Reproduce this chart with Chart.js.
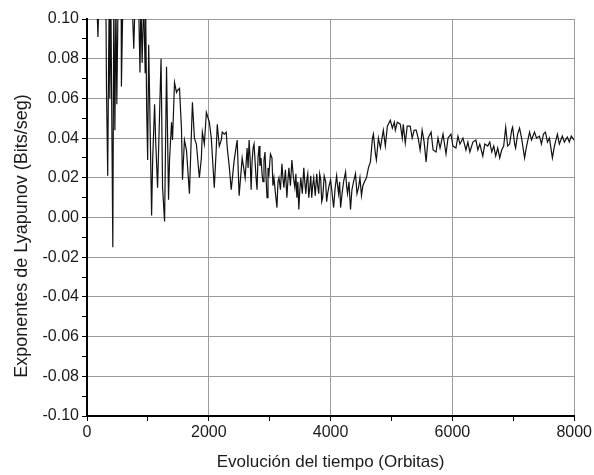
<!DOCTYPE html>
<html>
<head>
<meta charset="utf-8">
<script src="https://cdn.jsdelivr.net/npm/chart.js@4.4.0/dist/chart.umd.min.js"></script>
<style>
  body { margin: 0; background: #fff; }
  #wrap { width: 594px; height: 475px; }
</style>
</head>
<body>
<div id="wrap"><canvas id="chart" width="594" height="475"></canvas></div>
<script>
// Evolución del tiempo (orbitas) vs exponente de Lyapunov
const orbitas = [
  0, 40, 120, 165, 180, 195, 260, 310, 320, 340, 355, 365, 375, 392, 424, 440, 458, 475, 490, 510,
  560, 565, 590, 660, 740, 768, 790, 840, 870, 885, 905, 931, 955, 963, 980, 996, 1013, 1029, 1061, 1078,
  1110, 1127, 1159, 1216, 1241, 1274, 1306, 1339, 1355, 1388, 1404, 1437, 1470, 1486, 1519, 1551, 1568, 1600, 1633, 1682,
  1731, 1764, 1796, 1845, 1878, 1894, 1927, 1960, 2009, 2041, 2090, 2123, 2139, 2172, 2205, 2221, 2254, 2286, 2303, 2335,
  2368, 2417, 2466, 2498, 2548, 2597, 2629,
  2645, 2662, 2678, 2695, 2710, 2727, 2743, 2776, 2792, 2808, 2825, 2840, 2858, 2874, 2890, 2906, 2923, 2940, 2956, 2972,
  2988, 3012, 3037, 3053, 3070, 3095, 3119, 3136, 3152, 3176, 3201, 3217, 3233, 3258, 3282, 3298, 3315, 3340, 3364, 3390,
  3413, 3430, 3446, 3462, 3478, 3495, 3511, 3535, 3560, 3576, 3593, 3609, 3625, 3641, 3658, 3674, 3690, 3706, 3723, 3748,
  3772, 3788, 3805, 3821, 3838, 3854, 3870, 3895, 3919, 3935, 3951, 3975, 4000, 4025, 4050, 4075, 4099, 4115, 4131, 4148,
  4164, 4188, 4213, 4246, 4262, 4278, 4302, 4327, 4350, 4376, 4409, 4433, 4458, 4482, 4507, 4530, 4556,
  4589, 4621, 4654, 4687, 4703, 4736, 4752, 4785, 4818, 4866, 4899, 4932, 4981, 5014, 5046, 5063, 5095, 5144, 5177, 5193,
  5226, 5258, 5307, 5340, 5372, 5405, 5438, 5470, 5503, 5536, 5568, 5601, 5650, 5683, 5732, 5764, 5797, 5846, 5895, 5928,
  5976, 6009, 6058, 6091, 6124, 6173, 6222, 6254, 6287, 6336, 6385, 6418, 6450, 6499, 6532, 6581, 6613, 6646, 6679, 6711,
  6744, 6777, 6809, 6842, 6875, 6907, 6940, 6973, 6989, 7022, 7038, 7071, 7103, 7136, 7185, 7218, 7267, 7299, 7348, 7381,
  7430, 7462, 7495, 7528, 7561, 7593, 7642, 7675, 7724, 7756, 7805, 7838, 7887, 7920, 7952, 8000
];
const lyapunov = [
  0.105, 0.12, 0.11, 0.105, 0.091, 0.11, 0.125, 0.11, 0.065, 0.021, 0.08, 0.11, 0.06, 0.11, -0.015, 0.11, 0.044, 0.11, 0.057, 0.11,
  0.12, 0.066, 0.11, 0.12, 0.11, 0.085, 0.11, 0.12, 0.073, 0.11, 0.078, 0.11, 0.073, 0.105, 0.054, 0.029, 0.087, 0.059, 0.001, 0.029,
  0.057, 0.039, 0.015, 0.080, 0.015, -0.002, 0.076, 0.009, 0.029, 0.048, 0.039, 0.068, 0.063, 0.064, 0.065, 0.045, 0.019, 0.039, 0.034, 0.012,
  0.058, 0.040, 0.037, 0.020, 0.030, 0.043, 0.037, 0.053, 0.048, 0.040, 0.015, 0.035, 0.047, 0.036, 0.039, 0.043, 0.042, 0.043, 0.035, 0.026,
  0.014, 0.029, 0.039, 0.011, 0.030, 0.020, 0.035,
  0.025, 0.039, 0.030, 0.014, 0.028, 0.035, 0.037, 0.020, 0.014, 0.030, 0.036, 0.026, 0.030, 0.022, 0.018, 0.029, 0.033, 0.020, 0.010, 0.025,
  0.022, 0.032, 0.030, 0.016, 0.020, 0.012, 0.005, 0.018, 0.020, 0.014, 0.027, 0.020, 0.015, 0.024, 0.010, 0.018, 0.025, 0.016, 0.029, 0.020,
  0.015, 0.022, 0.010, 0.018, 0.004, 0.014, 0.020, 0.012, 0.025, 0.018, 0.012, 0.019, 0.022, 0.010, 0.015, 0.021, 0.010, 0.016, 0.020, 0.011,
  0.022, 0.016, 0.012, 0.022, 0.019, 0.008, 0.010, 0.021, 0.018, 0.008, 0.012, 0.016, 0.019, 0.012, 0.005, 0.015, 0.021, 0.016, 0.012, 0.018,
  0.005, 0.012, 0.018, 0.023, 0.016, 0.012, 0.018, 0.004, 0.014, 0.018, 0.022, 0.012, 0.015, 0.020, 0.011, 0.016, 0.018,
  0.020, 0.025, 0.028, 0.040, 0.042, 0.032, 0.029, 0.040, 0.035, 0.044, 0.036, 0.046, 0.049, 0.045, 0.048, 0.044, 0.048, 0.047, 0.040, 0.047,
  0.0375, 0.046, 0.046, 0.040, 0.044, 0.044, 0.040, 0.034, 0.044, 0.038, 0.028, 0.040, 0.043, 0.034, 0.033, 0.040, 0.035, 0.042, 0.032, 0.040,
  0.042, 0.036, 0.035, 0.041, 0.037, 0.040, 0.034, 0.038, 0.033, 0.038, 0.039, 0.034, 0.037, 0.031, 0.037, 0.036, 0.038, 0.033, 0.036, 0.031,
  0.035, 0.030, 0.034, 0.036, 0.0455, 0.036, 0.037, 0.044, 0.0455, 0.037, 0.035, 0.042, 0.045, 0.040, 0.030, 0.036, 0.043, 0.039, 0.043, 0.040,
  0.041, 0.037, 0.042, 0.043, 0.038, 0.040, 0.030, 0.036, 0.042, 0.037, 0.041, 0.038, 0.0405, 0.038, 0.041, 0.039
];

const xMin = 0, xMax = 8000, xStep = 1000, xLabelStep = 2000;
const yMin = -0.10, yMax = 0.10, yStep = 0.01;

const FONT = "'Liberation Sans', Arial, sans-serif";
const GRID = "#9a9a9a";
const INK = "#1a1a1a";
const Y_TITLE = "Exponentes de Lyapunov (Bits/seg)";

const points = orbitas.map((x, i) => ({ x, y: lyapunov[i] }));

// título del eje Y, centrado en la altura de la figura como en el original
const yTitlePlugin = {
  id: "yTitle",
  afterDraw(chart) {
    const ctx = chart.ctx;
    ctx.save();
    ctx.translate(22, 236);
    ctx.rotate(-Math.PI / 2);
    ctx.font = "18px " + FONT;
    ctx.fillStyle = INK;
    ctx.textAlign = "center";
    ctx.textBaseline = "middle";
    ctx.fillText(Y_TITLE, 0, 0);
    ctx.restore();
  }
};

new Chart(document.getElementById("chart"), {
  type: "line",
  data: {
    datasets: [{
      data: points,
      borderColor: "#111",
      borderWidth: 1.2,
      pointRadius: 0,
      tension: 0,
      fill: false
    }]
  },
  options: {
    responsive: false,
    animation: false,
    layout: { padding: { top: 19, right: 17, bottom: 2, left: 0 } },
    plugins: { legend: { display: false }, tooltip: { enabled: false } },
    scales: {
      x: {
        type: "linear",
        min: xMin, max: xMax,
        afterFit: s => { s.height = 57; },
        border: { color: "#000", width: 2 },
        grid: {
          color: c => (c.tick && c.tick.value % xLabelStep === 0) ? GRID : "rgba(0,0,0,0)",
          tickColor: "#000",
          tickLength: 5,
          lineWidth: 1
        },
        ticks: {
          stepSize: xStep,
          autoSkip: false,
          maxRotation: 0,
          padding: 2,
          color: INK,
          font: { family: FONT, size: 16 },
          callback: v => (v % xLabelStep === 0 ? String(v) : "")
        },
        title: {
          display: true,
          text: "Evolución del tiempo (Orbitas)",
          color: INK,
          font: { family: FONT, size: 17 },
          padding: { top: 4, bottom: 0 }
        }
      },
      y: {
        min: yMin, max: yMax,
        afterFit: s => { s.width = 87; },
        border: { color: "#000", width: 2 },
        grid: {
          color: c => {
            if (!c.tick) return "rgba(0,0,0,0)";
            const n = Math.round(c.tick.value * 100);
            return n % 2 === 0 ? GRID : "rgba(0,0,0,0)";
          },
          tickColor: "#000",
          tickLength: 5,
          lineWidth: 1
        },
        ticks: {
          stepSize: yStep,
          autoSkip: false,
          padding: 3,
          color: INK,
          font: { family: FONT, size: 16 },
          callback: v => {
            const n = Math.round(v * 100);
            return n % 2 === 0 ? (n / 100).toFixed(2) : "";
          }
        }
      }
    }
  },
  plugins: [yTitlePlugin]
});
</script>
</body>
</html>
